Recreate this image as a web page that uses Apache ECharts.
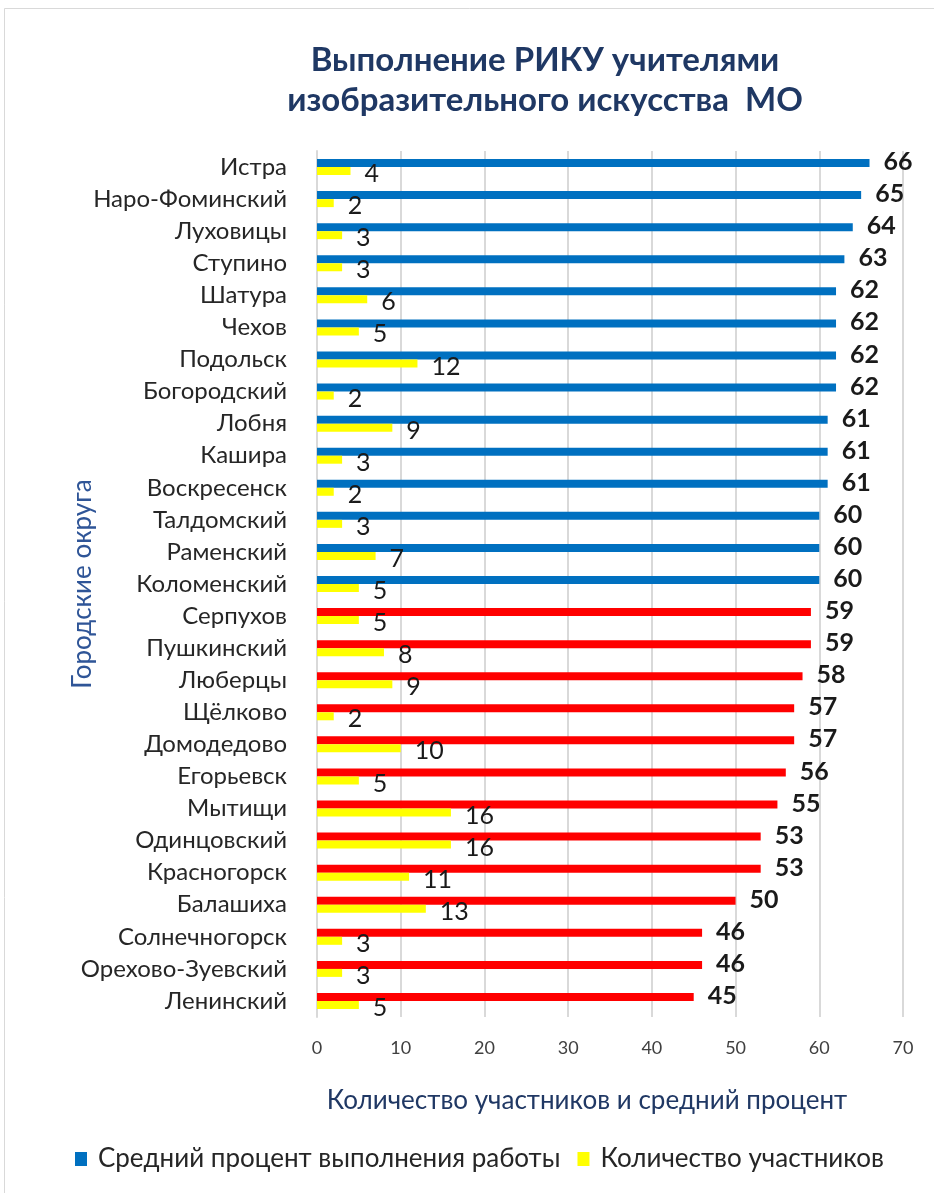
<!DOCTYPE html>
<html>
<head>
<meta charset="utf-8">
<script src="https://cdn.jsdelivr.net/npm/echarts@6/dist/echarts.min.js"></script>
<style>
    html, body { margin: 0; padding: 0; background: #fff; }
    #chart { width: 934px; height: 1193px; }
</style>
</head>
<body>
<div id="chart"></div>
<script>
// Chart data
const districts = ['Истра', 'Наро-Фоминский', 'Луховицы', 'Ступино', 'Шатура', 'Чехов', 'Подольск',
    'Богородский', 'Лобня', 'Кашира', 'Воскресенск', 'Талдомский', 'Раменский', 'Коломенский',
    'Серпухов', 'Пушкинский', 'Люберцы', 'Щёлково', 'Домодедово', 'Егорьевск', 'Мытищи',
    'Одинцовский', 'Красногорск', 'Балашиха', 'Солнечногорск', 'Орехово-Зуевский', 'Ленинский'];
const avgPercent = [66, 65, 64, 63, 62, 62, 62, 62, 61, 61, 61, 60, 60, 60,
    59, 59, 58, 57, 57, 56, 55, 53, 53, 50, 46, 46, 45];
const participants = [4, 2, 3, 3, 6, 5, 12, 2, 9, 3, 2, 3, 7, 5,
    5, 8, 9, 2, 10, 5, 16, 16, 11, 13, 3, 3, 5];
const xTicks = [0, 10, 20, 30, 40, 50, 60, 70];

const FONT = 'Lato, "Noto Sans", sans-serif';
const BLUE = '#0070C0';
const RED = '#FF0000';
const YELLOW = '#FFFF00';

const chart = echarts.init(document.getElementById('chart'));

// bars below 60% are drawn red
const percentData = avgPercent.map(v => ({
    value: v,
    itemStyle: { color: v >= 60 ? BLUE : RED }
}));

const option = {
    backgroundColor: '#fff',
    animation: false,
    textStyle: { fontFamily: FONT },
    title: {
        text: 'Выполнение РИКУ учителями\nизобразительного искусства  МО',
        left: 540,
        top: 35,
        textAlign: 'center',
        textStyle: {
            fontFamily: FONT,
            fontSize: 33,
            fontWeight: 'bold',
            color: '#1F3864',
            lineHeight: 40
        }
    },
    graphic: [{
        type: 'rect',
        shape: { x: 4.5, y: 8.5, width: 1000, height: 1300 },
        style: { fill: 'none', stroke: '#D9D9D9', lineWidth: 1 },
        silent: true
    }],
    legend: {
        bottom: 16,
        left: 70,
        itemGap: 17,
        itemWidth: 12,
        itemHeight: 14,
        icon: 'rect',
        textStyle: { fontFamily: FONT, fontSize: 26, color: '#262626', padding: [0, 0, 0, 6] },
        data: ['Средний процент выполнения работы', 'Количество участников']
    },
    grid: {
        left: 317,
        right: 31,
        top: 151,
        bottom: 176,
        containLabel: false
    },
    xAxis: {
        type: 'value',
        min: 0,
        max: 70,
        interval: 10,
        name: 'Количество участников и средний процент',
        nameLocation: 'middle',
        nameGap: 71,
        nameTextStyle: { fontFamily: FONT, fontSize: 26, color: '#203864', padding: [0, 46, 0, 0] },
        axisLine: { show: false },
        axisTick: { show: false },
        axisLabel: {
            fontFamily: FONT,
            fontSize: 18,
            color: '#404040',
            margin: 22,
            formatter: v => (xTicks.includes(v) ? String(v) : '')
        },
        splitLine: { show: true, lineStyle: { color: '#D9D9D9', width: 2 } }
    },
    yAxis: {
        type: 'category',
        data: districts,
        inverse: true,
        name: 'Городские округа',
        nameLocation: 'middle',
        nameGap: 221,
        nameRotate: 90,
        nameMoveOverlap: false,
        nameTextStyle: { fontFamily: FONT, fontSize: 26, color: '#2F5597' },
        axisLine: { show: true, lineStyle: { color: '#D9D9D9', width: 2 } },
        axisTick: { show: false },
        axisLabel: {
            fontFamily: FONT,
            fontSize: 24,
            color: '#262626',
            margin: 30
        }
    },
    series: [
        {
            name: 'Средний процент выполнения работы',
            type: 'bar',
            data: percentData,
            barWidth: 8,
            barGap: '0%',
            itemStyle: { color: BLUE },
            label: {
                show: true,
                position: 'right',
                distance: 14,
                offset: [0, -1],
                fontFamily: FONT,
                fontSize: 25,
                fontWeight: 'bold',
                color: '#1a1a1a'
            }
        },
        {
            name: 'Количество участников',
            type: 'bar',
            data: participants,
            barWidth: 8,
            barGap: '0%',
            itemStyle: { color: YELLOW },
            label: {
                show: true,
                position: 'right',
                distance: 14,
                offset: [0, 3],
                fontFamily: FONT,
                fontSize: 25,
                color: '#1a1a1a'
            }
        }
    ]
};

chart.setOption(option);
</script>
</body>
</html>
